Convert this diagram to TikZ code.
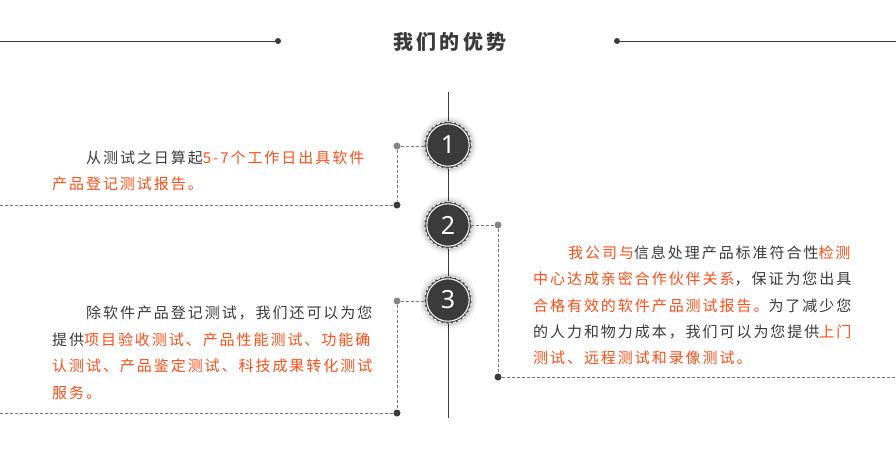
\documentclass[tikz,border=0pt]{standalone}
\usepackage{fontspec}
\setmainfont{Noto Sans}
\newfontfamily\cjk[LetterSpace=13]{Noto Sans CJK SC}
\newfontfamily\cjktitle[LetterSpace=17]{Noto Sans CJK SC}
\newfontfamily\numfont{Noto Sans}
\definecolor{txt}{HTML}{3A3A3A}
\definecolor{org}{HTML}{FF4E17}
\definecolor{disk}{HTML}{3B3B3B}
\definecolor{dash}{HTML}{777777}
\newcommand{\hl}[1]{\textcolor{org}{#1}}
\tikzset{
  ln/.style={inner sep=0pt, anchor=base west, text=txt, font=\cjk\fontsize{15}{18}\selectfont},
  dl/.style={draw=dash, dashed, dash pattern=on 3pt off 2pt, line width=0.7pt},
  gdot/.style={circle, fill=dash!90, inner sep=0pt, minimum size=7pt},
  kdot/.style={circle, fill=disk, inner sep=0pt, minimum size=7pt},
  num/.style={circle, fill=disk, inner sep=0pt, minimum size=40pt, text=white, font=\numfont\fontsize{25}{25}\selectfont},
}
\newcommand{\badge}[3]{%
  \foreach \r/\o in {29/0.03,27.5/0.04,26/0.05,25/0.06}{\fill[black,opacity=\o] (#1) circle (\r pt);}
  \fill[disk] (#1) circle (23.5pt);
  \draw[white, line width=1.1pt] (#1) circle (21.2pt);
  \draw[white, line width=0.9pt, dash pattern=on 3pt off 2pt] (#1) circle (23.3pt);
  \node[num] (#2) at (#1) {#3};
}
\begin{document}
\begin{tikzpicture}[x=1pt,y=-1pt]
\useasboundingbox (0,0) rectangle (896,448);
\fill[white] (0,0) rectangle (896,448);
% title
\node[inner sep=0pt, text=txt, font=\cjktitle\bfseries\fontsize{20}{24}\selectfont] (title) at (450,42) {我们的优势};
\node[kdot, minimum size=6pt] (tl) at (278,41) {};
\node[kdot, minimum size=6pt] (tr) at (617,41) {};
\coordinate (tl0) at (0,41);
\coordinate (tr0) at (896,41);
\draw[disk, line width=1pt] (tl0) -- (tl);
\draw[disk, line width=1pt] (tr) -- (tr0);
% spine
\coordinate (sTop) at (448,92);
\coordinate (sBot) at (448,418);
\draw[disk, line width=1pt] (sTop) -- (sBot);
% badges
\coordinate (c1) at (448,145);
\coordinate (c2) at (448,225);
\coordinate (c3) at (448,300);
\badge{c1}{n1}{1}
\badge{c2}{n2}{2}
\badge{c3}{n3}{3}
% connector 1
\node[gdot] (d1a) at (397,146) {};
\node[kdot] (d1b) at (397,205) {};
\coordinate (e1) at (0,205);
\coordinate (c1w) at (425,146);
\draw[dl] (d1a) -- (c1w);
\draw[dl] (d1a) -- (d1b);
\draw[dl] (d1b) -- (e1);
% connector 2
\node[gdot] (d2a) at (498,225) {};
\node[kdot] (d2b) at (498,377) {};
\coordinate (e2) at (896,377);
\coordinate (c2e) at (471,225);
\draw[dl] (c2e) -- (d2a);
\draw[dl] (d2a) -- (d2b);
\draw[dl] (d2b) -- (e2);
% connector 3
\node[gdot] (d3a) at (397,301) {};
\node[kdot] (d3b) at (397,413) {};
\coordinate (e3) at (0,413);
\coordinate (c3w) at (425,301);
\draw[dl] (d3a) -- (c3w);
\draw[dl] (d3a) -- (d3b);
\draw[dl] (d3b) -- (e3);
% text 1
\node[ln] (a1) at (86,163) {从测试之日算起\hl{5-7个工作日出具软件}};
\node[ln] (a2) at (52,189) {\hl{产品登记测试报告。}};
% text 2
\node[ln] (b1) at (568,258) {\hl{我公司与}信息处理产品标准符合性\hl{检测}};
\node[ln] (b2) at (533,284) {\hl{中心达成亲密合作伙伴关系}，保证为您出具};
\node[ln] (b3) at (533,311) {\hl{合格有效的软件产品测试报告。}为了减少您};
\node[ln] (b4) at (533,337) {的人力和物力成本，我们可以为您提供\hl{上门}};
\node[ln] (b5) at (533,363) {\hl{测试、远程测试和录像测试。}};
% text 3
\node[ln] (g1) at (86,318) {除软件产品登记测试，我们还可以为您};
\node[ln] (g2) at (52,345) {提供\hl{项目验收测试、产品性能测试、功能确}};
\node[ln] (g3) at (52,371) {\hl{认测试、产品鉴定测试、科技成果转化测试}};
\node[ln] (g4) at (52,398) {\hl{服务。}};
\end{tikzpicture}
\end{document}
